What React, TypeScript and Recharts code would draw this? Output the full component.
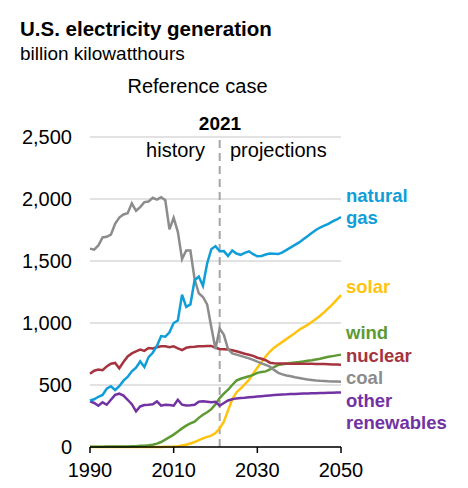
import { CartesianGrid, Line, LineChart, ReferenceLine, XAxis, YAxis } from "recharts";

const years = Array.from({ length: 61 }, (_, i) => 1990 + i);

// billion kWh, 1990–2021 history, 2022–2050 projections
const naturalGas = [
  375, 385, 405, 420, 470, 490, 460, 490, 535, 565, 610, 640, 690, 645, 725, 760, 815, 895, 890, 925,
  1000, 1020, 1228, 1130, 1150, 1345, 1375, 1300, 1480, 1595, 1620, 1578,
  1580, 1540, 1585, 1560, 1550, 1565, 1578, 1555, 1538, 1540, 1552, 1560, 1558, 1556, 1570, 1590, 1610,
  1630, 1650, 1675, 1700, 1725, 1750, 1770, 1785, 1800, 1820, 1835, 1855,
];
const coal = [
  1600, 1592, 1625, 1690, 1695, 1712, 1800, 1850, 1875, 1885, 1965, 1905, 1935, 1975, 1980, 2010, 1995,
  2015, 1990, 1755, 1848, 1735, 1515, 1585, 1585, 1355, 1240, 1210, 1150, 965, 790, 955,
  905, 790, 755, 745, 735, 725, 715, 702, 688, 675, 662, 648, 622, 598, 586, 577, 570, 562, 556, 550,
  545, 541, 537, 534, 532, 530, 529, 528, 527,
];
const nuclear = [
  590, 615, 625, 620, 650, 672, 678, 635, 685, 730, 755, 772, 785, 775, 798, 795, 805, 812, 812, 805,
  812, 795, 782, 800, 806, 808, 812, 812, 815, 815, 800, 790,
  788, 786, 780, 772, 762, 752, 744, 735, 720, 712, 700, 680, 676, 674, 673, 673, 672, 672, 672, 671,
  671, 671, 670, 670, 669, 668, 666, 665, 664,
];
const wind = [
  3, 3, 3, 3, 4, 4, 4, 4, 4, 5, 6, 7, 10, 11, 14, 18, 27, 40, 60, 80, 100, 125, 150, 172, 190, 205, 235,
  260, 280, 305, 345, 395,
  430, 462, 500, 535, 550, 560, 570, 582, 598, 604, 610, 625, 645, 662, 667, 672, 677, 681, 685, 690,
  695, 700, 706, 712, 720, 727, 733, 739, 745,
];
const solar = [
  0, 0, 0, 0, 0, 0, 0, 0, 0, 0, 1, 1, 1, 1, 1, 1, 1, 1, 2, 2, 4, 7, 12, 18, 28, 40, 55, 70, 82, 92, 112,
  150,
  205, 295, 385, 440, 470, 505, 542, 590, 640, 685, 730, 770, 800, 825, 848, 872, 896, 920, 946, 965,
  985, 1008, 1032, 1058, 1088, 1120, 1152, 1188, 1225,
];
const otherRenewables = [
  368, 355, 333, 360, 341, 381, 420, 430, 414, 381, 345, 287, 327, 338, 341, 345, 368, 333, 340, 338,
  333, 381, 341, 335, 336, 341, 365, 368, 365, 360, 365, 333,
  355, 375, 385, 392, 396, 398, 401, 404, 407, 410, 413, 416, 419, 422, 424, 425, 427, 428, 430, 431,
  432, 433, 434, 435, 436, 437, 438, 439, 440,
];

const xTicks = [1990, 2010, 2030, 2050];
const yTicks = [0, 500, 1000, 1500, 2000, 2500];
const lastHistoryYear = 2021;

const data = years.map((year, i) => ({
  year,
  naturalGas: naturalGas[i],
  coal: coal[i],
  nuclear: nuclear[i],
  wind: wind[i],
  solar: solar[i],
  otherRenewables: otherRenewables[i],
}));

const colors = {
  naturalGas: "#0f9ed8",
  coal: "#8c8c8c",
  nuclear: "#a5343f",
  wind: "#5e9a33",
  solar: "#ffc30f",
  otherRenewables: "#7232a3",
};

const font = '"Liberation Sans", Arial, sans-serif';

// series labels at the right edge: [text, color key, top]
const seriesLabels: [string, keyof typeof colors, number][] = [
  ["natural", "naturalGas", 187],
  ["gas", "naturalGas", 209],
  ["solar", "solar", 278],
  ["wind", "wind", 324],
  ["nuclear", "nuclear", 347],
  ["coal", "coal", 369],
  ["other", "otherRenewables", 392],
  ["renewables", "otherRenewables", 414],
];

function Txt({ left, top, size, bold, color = "#000", align, children }: any) {
  const style: any = {
    position: "absolute",
    top,
    fontSize: size,
    lineHeight: `${size}px`,
    fontWeight: bold ? 700 : 400,
    color,
    whiteSpace: "nowrap",
  };
  if (align === "center") {
    style.left = left;
    style.transform = "translateX(-50%)";
  } else if (align === "right") {
    style.right = 468 - left;
  } else {
    style.left = left;
  }
  return <div style={style}>{children}</div>;
}

export default function App() {
  return (
    <div
      style={{
        position: "absolute",
        left: 0,
        top: 0,
        width: 468,
        height: 488,
        background: "#fff",
        fontFamily: font,
      }}
    >
      <LineChart width={468} height={488} data={data} margin={{ top: 137, right: 127, bottom: 11, left: 20 }}>
        <CartesianGrid vertical={false} stroke="#d9d9d9" strokeWidth={1.5} />
        <XAxis
          dataKey="year"
          type="number"
          domain={[1990, 2050]}
          ticks={xTicks}
          height={30}
          tickSize={6}
          tickMargin={10}
          tick={{ fill: "#000", fontSize: 20, fontFamily: font }}
          tickLine={{ stroke: "#000", strokeWidth: 1.5 }}
          axisLine={{ stroke: "#000", strokeWidth: 1.5 }}
        />
        <YAxis
          type="number"
          domain={[0, 2500]}
          ticks={yTicks}
          width={70}
          tickSize={0}
          tickMargin={18}
          axisLine={false}
          tickLine={false}
          tick={{ fill: "#000", fontSize: 20, fontFamily: font }}
          tickFormatter={(v: number) => v.toLocaleString("en-US")}
        />
        <ReferenceLine x={lastHistoryYear} stroke="#a6a6a6" strokeWidth={2} strokeDasharray="8 5" />
        <Line dataKey="solar" stroke={colors.solar} strokeWidth={2.5} dot={false} isAnimationActive={false} />
        <Line dataKey="wind" stroke={colors.wind} strokeWidth={2.5} dot={false} isAnimationActive={false} />
        <Line dataKey="otherRenewables" stroke={colors.otherRenewables} strokeWidth={2.5} dot={false} isAnimationActive={false} />
        <Line dataKey="nuclear" stroke={colors.nuclear} strokeWidth={2.5} dot={false} isAnimationActive={false} />
        <Line dataKey="coal" stroke={colors.coal} strokeWidth={2.5} dot={false} isAnimationActive={false} />
        <Line dataKey="naturalGas" stroke={colors.naturalGas} strokeWidth={2.5} dot={false} isAnimationActive={false} />
      </LineChart>

      <Txt left={20} top={19} size={20.5} bold>U.S. electricity generation</Txt>
      <Txt left={20} top={44} size={19}>billion kilowatthours</Txt>
      <Txt left={197.5} top={76} size={20} align="center">Reference case</Txt>
      <Txt left={220} top={114} size={19} bold align="center">2021</Txt>
      <Txt left={205} top={140} size={20} align="right">history</Txt>
      <Txt left={230} top={140} size={20}>projections</Txt>

      {seriesLabels.map(([text, key, top]) => (
        <Txt key={text} left={346} top={top} size={18.5} bold color={colors[key]}>
          {text}
        </Txt>
      ))}
    </div>
  );
}
